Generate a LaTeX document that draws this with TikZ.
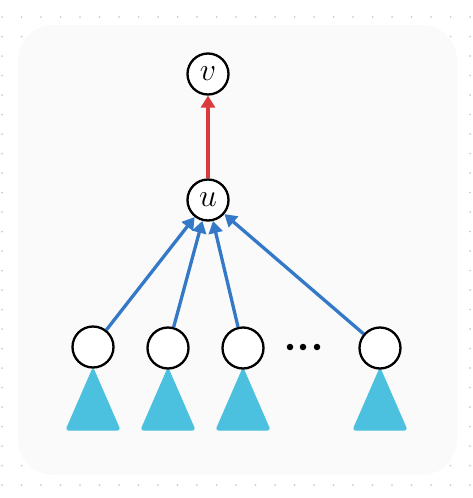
\documentclass[tikz,border=0pt]{standalone}
\usepackage{fix-cm}
\usetikzlibrary{arrows.meta}
\definecolor{griddot}{HTML}{C5CAD6}
\definecolor{panel}{HTML}{FAFAFA}
\definecolor{edgeblue}{HTML}{3479C8}
\definecolor{edgered}{HTML}{D93A3C}
\definecolor{tri}{HTML}{4BC1DF}
\tikzset{
  vnode/.style={circle,draw=black,fill=white,line width=2.3pt,minimum size=41pt,inner sep=0pt,font=\fontsize{32}{36}\selectfont},
  bluearrow/.style={draw=edgeblue,line width=3.3pt,-{Triangle[length=12pt,width=14pt]}},
  redarrow/.style={draw=edgered,line width=3.3pt,-{Triangle[length=12pt,width=14pt]}},
  subtree/.style={fill=tri,draw=tri,line width=1pt,rounded corners=2.5pt},
  dotmark/.style={circle,fill=black,inner sep=0pt,minimum size=6.5pt}
}
\begin{document}
\begin{tikzpicture}[x=1pt,y=-1pt]
\useasboundingbox (0,0) rectangle (473,498);
\foreach \i in {0,...,24}{
  \foreach \j in {0,...,24}{
    \fill[griddot] (2+19.5*\i,17+19.5*\j) circle (1pt);
  }
}
\fill[panel] (18,25) [rounded corners=35pt] rectangle (457,475);
% subtrees
\foreach \cx in {93,168,243,380}{
  \filldraw[subtree] (\cx,368) -- (\cx+27,430) -- (\cx-27,430) -- cycle;
}
\node[vnode] (v) at (208,74) {$v$};
\node[vnode] (u) at (208,200) {$u$};
\node[vnode] (a) at (93,347) {};
\node[vnode] (b) at (168,348) {};
\node[vnode] (c) at (243,348) {};
\node[vnode] (d) at (380,348) {};
\node[dotmark] (d1) at (290,347) {};
\node[dotmark] (d2) at (303,347) {};
\node[dotmark] (d3) at (317,347) {};
\draw[redarrow] (u) -- (v);
\draw[bluearrow] (a) -- (u);
\draw[bluearrow] (b) -- (u);
\draw[bluearrow] (c) -- (u);
\draw[bluearrow] (d) -- (u);
\end{tikzpicture}
\end{document}
